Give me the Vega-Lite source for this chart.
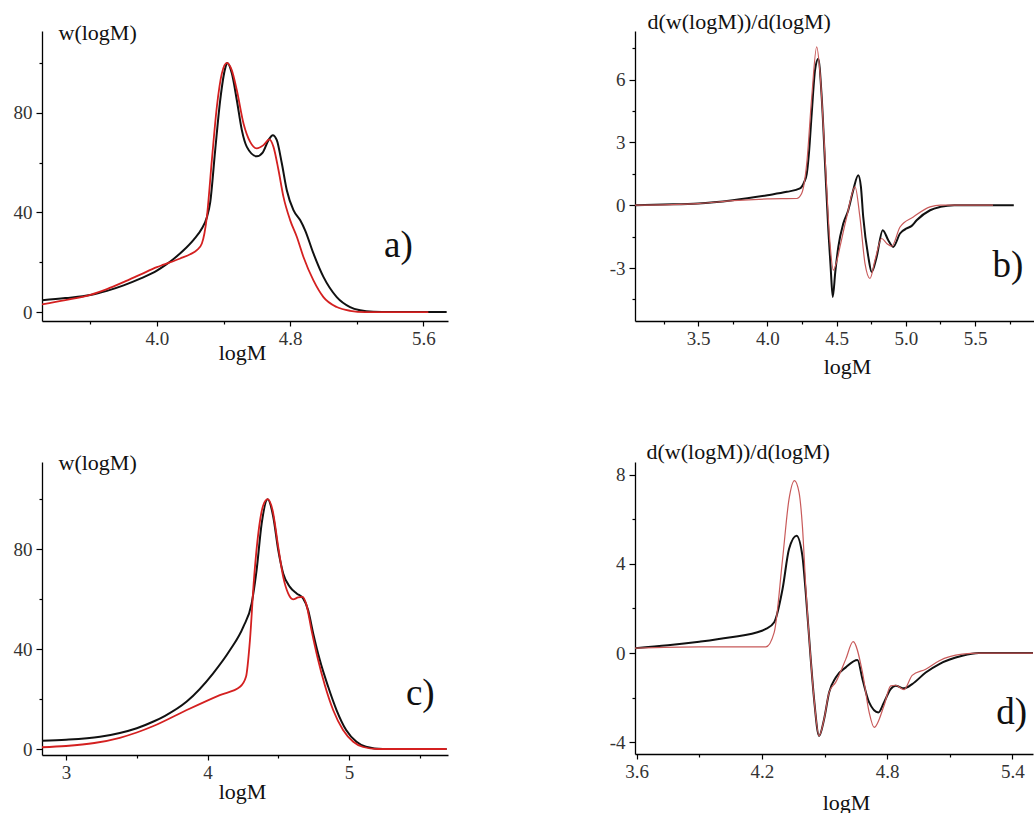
{
  "$schema": "https://vega.github.io/schema/vega-lite/v6.json",
  "background": "white",
  "padding": {"left": 13, "top": 10, "right": 0, "bottom": 0},
  "config": {
    "view": {"stroke": null},
    "axis": {
      "grid": false,
      "domainColor": "#000",
      "domainWidth": 1.3,
      "tickColor": "#000",
      "tickWidth": 1.2,
      "labelColor": "#333",
      "labelFont": "Liberation Serif",
      "labelFontSize": 19,
      "labelFlush": false,
      "labelOverlap": false,
      "labelBound": false,
      "titleFont": "Liberation Serif",
      "titleFontSize": 22,
      "titleFontWeight": "normal",
      "titleColor": "#111"
    }
  },
  "datasets": {
    "a_black": [
      {"logM": 3.31, "w": 4.7}, {"logM": 3.45, "w": 5.6}, {"logM": 3.6, "w": 6.8}, {"logM": 3.7, "w": 8.5},
      {"logM": 3.8, "w": 10.7}, {"logM": 3.9, "w": 13.4}, {"logM": 4.0, "w": 16.6}, {"logM": 4.05, "w": 18.8},
      {"logM": 4.1, "w": 21.3}, {"logM": 4.16, "w": 24.8}, {"logM": 4.22, "w": 29.0}, {"logM": 4.27, "w": 33.5},
      {"logM": 4.3, "w": 38.0}, {"logM": 4.32, "w": 44.0}, {"logM": 4.35, "w": 65.0}, {"logM": 4.38, "w": 85.0},
      {"logM": 4.41, "w": 97.8}, {"logM": 4.423, "w": 100.0}, {"logM": 4.45, "w": 95.8}, {"logM": 4.48, "w": 85.0},
      {"logM": 4.51, "w": 73.0}, {"logM": 4.54, "w": 66.3}, {"logM": 4.6, "w": 62.5}, {"logM": 4.635, "w": 64.0},
      {"logM": 4.67, "w": 69.0}, {"logM": 4.696, "w": 71.0}, {"logM": 4.72, "w": 69.0}, {"logM": 4.75, "w": 59.7},
      {"logM": 4.78, "w": 48.9}, {"logM": 4.82, "w": 40.9}, {"logM": 4.86, "w": 36.9}, {"logM": 4.89, "w": 32.8},
      {"logM": 4.94, "w": 23.5}, {"logM": 5.0, "w": 14.1}, {"logM": 5.08, "w": 6.0}, {"logM": 5.16, "w": 2.0},
      {"logM": 5.22, "w": 0.7}, {"logM": 5.3, "w": 0.1}, {"logM": 5.4, "w": 0.0}, {"logM": 5.74, "w": 0.0}
    ],
    "a_red": [
      {"logM": 3.31, "w": 3.1}, {"logM": 3.45, "w": 4.8}, {"logM": 3.6, "w": 6.9}, {"logM": 3.7, "w": 9.2},
      {"logM": 3.8, "w": 12.0}, {"logM": 3.9, "w": 15.0}, {"logM": 4.0, "w": 18.0}, {"logM": 4.04, "w": 19.0},
      {"logM": 4.14, "w": 21.5}, {"logM": 4.2, "w": 23.2}, {"logM": 4.24, "w": 24.8}, {"logM": 4.27, "w": 27.5},
      {"logM": 4.3, "w": 38.2}, {"logM": 4.33, "w": 61.0}, {"logM": 4.36, "w": 82.4}, {"logM": 4.39, "w": 95.8},
      {"logM": 4.42, "w": 100.0}, {"logM": 4.45, "w": 97.0}, {"logM": 4.48, "w": 89.0}, {"logM": 4.52, "w": 75.7},
      {"logM": 4.56, "w": 68.3}, {"logM": 4.6, "w": 65.7}, {"logM": 4.64, "w": 67.0}, {"logM": 4.675, "w": 69.3},
      {"logM": 4.7, "w": 66.3}, {"logM": 4.73, "w": 57.0}, {"logM": 4.76, "w": 46.2}, {"logM": 4.8, "w": 36.9},
      {"logM": 4.84, "w": 30.2}, {"logM": 4.88, "w": 22.1}, {"logM": 4.94, "w": 12.7}, {"logM": 5.0, "w": 6.0},
      {"logM": 5.08, "w": 2.0}, {"logM": 5.16, "w": 0.5}, {"logM": 5.25, "w": 0.0}, {"logM": 5.63, "w": 0.0}
    ],
    "b_black": [
      {"logM": 3.043, "dw": 0.0}, {"logM": 3.25, "dw": 0.03}, {"logM": 3.5, "dw": 0.08}, {"logM": 3.75, "dw": 0.24},
      {"logM": 4.0, "dw": 0.48}, {"logM": 4.14, "dw": 0.64}, {"logM": 4.235, "dw": 0.8}, {"logM": 4.265, "dw": 1.1},
      {"logM": 4.284, "dw": 1.5}, {"logM": 4.3, "dw": 2.5}, {"logM": 4.32, "dw": 4.4}, {"logM": 4.344, "dw": 6.45},
      {"logM": 4.367, "dw": 7.0}, {"logM": 4.392, "dw": 5.17}, {"logM": 4.416, "dw": 2.0}, {"logM": 4.44, "dw": -1.2},
      {"logM": 4.457, "dw": -3.0}, {"logM": 4.472, "dw": -4.38}, {"logM": 4.49, "dw": -3.2}, {"logM": 4.512, "dw": -1.99},
      {"logM": 4.548, "dw": -0.88}, {"logM": 4.584, "dw": -0.24}, {"logM": 4.62, "dw": 0.72}, {"logM": 4.656, "dw": 1.43},
      {"logM": 4.675, "dw": 0.9}, {"logM": 4.692, "dw": -0.56}, {"logM": 4.729, "dw": -2.47}, {"logM": 4.753, "dw": -3.19},
      {"logM": 4.789, "dw": -2.47}, {"logM": 4.833, "dw": -1.19}, {"logM": 4.873, "dw": -1.67}, {"logM": 4.909, "dw": -1.99},
      {"logM": 4.958, "dw": -1.35}, {"logM": 5.006, "dw": -1.11}, {"logM": 5.04, "dw": -1.0}, {"logM": 5.078, "dw": -0.72},
      {"logM": 5.175, "dw": -0.24}, {"logM": 5.25, "dw": -0.08}, {"logM": 5.35, "dw": 0.0}, {"logM": 5.78, "dw": 0.0}
    ],
    "b_red": [
      {"logM": 3.043, "dw": 0.0}, {"logM": 3.5, "dw": 0.08}, {"logM": 3.75, "dw": 0.22}, {"logM": 4.0, "dw": 0.3},
      {"logM": 4.211, "dw": 0.32}, {"logM": 4.247, "dw": 0.56}, {"logM": 4.284, "dw": 2.0}, {"logM": 4.32, "dw": 5.17},
      {"logM": 4.356, "dw": 7.56}, {"logM": 4.38, "dw": 6.3}, {"logM": 4.416, "dw": 2.3}, {"logM": 4.452, "dw": -1.83},
      {"logM": 4.476, "dw": -3.1}, {"logM": 4.5, "dw": -2.7}, {"logM": 4.524, "dw": -1.99}, {"logM": 4.573, "dw": -0.56},
      {"logM": 4.633, "dw": 0.88}, {"logM": 4.668, "dw": -0.56}, {"logM": 4.705, "dw": -2.79}, {"logM": 4.741, "dw": -3.5},
      {"logM": 4.777, "dw": -2.63}, {"logM": 4.825, "dw": -1.59}, {"logM": 4.862, "dw": -1.83}, {"logM": 4.898, "dw": -1.96},
      {"logM": 4.958, "dw": -1.04}, {"logM": 5.054, "dw": -0.56}, {"logM": 5.175, "dw": -0.08}, {"logM": 5.25, "dw": 0.0},
      {"logM": 5.63, "dw": 0.0}
    ],
    "c_black": [
      {"logM": 2.83, "w": 3.3}, {"logM": 3.0, "w": 3.7}, {"logM": 3.24, "w": 4.9}, {"logM": 3.38, "w": 6.4},
      {"logM": 3.5, "w": 8.3}, {"logM": 3.618, "w": 11.0}, {"logM": 3.7, "w": 13.3}, {"logM": 3.853, "w": 19.0},
      {"logM": 4.04, "w": 30.3}, {"logM": 4.159, "w": 39.6}, {"logM": 4.253, "w": 48.9}, {"logM": 4.312, "w": 58.3},
      {"logM": 4.347, "w": 71.6}, {"logM": 4.383, "w": 90.3}, {"logM": 4.425, "w": 100.0}, {"logM": 4.465, "w": 92.9},
      {"logM": 4.5, "w": 79.6}, {"logM": 4.535, "w": 70.3}, {"logM": 4.582, "w": 64.9}, {"logM": 4.63, "w": 62.3},
      {"logM": 4.676, "w": 60.3}, {"logM": 4.711, "w": 55.6}, {"logM": 4.747, "w": 46.3}, {"logM": 4.794, "w": 35.6},
      {"logM": 4.853, "w": 24.9}, {"logM": 4.912, "w": 15.6}, {"logM": 4.98, "w": 7.6}, {"logM": 5.053, "w": 2.9},
      {"logM": 5.12, "w": 0.9}, {"logM": 5.24, "w": 0.0}, {"logM": 5.69, "w": 0.0}
    ],
    "c_red": [
      {"logM": 2.83, "w": 0.7}, {"logM": 3.0, "w": 1.2}, {"logM": 3.2, "w": 2.4}, {"logM": 3.38, "w": 4.5},
      {"logM": 3.5, "w": 6.6}, {"logM": 3.618, "w": 9.2}, {"logM": 3.853, "w": 15.6}, {"logM": 4.087, "w": 21.6},
      {"logM": 4.23, "w": 24.9}, {"logM": 4.272, "w": 28.9}, {"logM": 4.3, "w": 43.6}, {"logM": 4.328, "w": 67.6},
      {"logM": 4.359, "w": 86.3}, {"logM": 4.394, "w": 97.6}, {"logM": 4.425, "w": 100.0}, {"logM": 4.46, "w": 95.6},
      {"logM": 4.5, "w": 80.9}, {"logM": 4.535, "w": 68.9}, {"logM": 4.57, "w": 62.3}, {"logM": 4.605, "w": 59.9},
      {"logM": 4.641, "w": 60.7}, {"logM": 4.672, "w": 60.9}, {"logM": 4.7, "w": 57.6}, {"logM": 4.735, "w": 47.6},
      {"logM": 4.782, "w": 35.6}, {"logM": 4.829, "w": 25.6}, {"logM": 4.888, "w": 15.6}, {"logM": 4.958, "w": 7.6},
      {"logM": 5.03, "w": 2.9}, {"logM": 5.1, "w": 0.8}, {"logM": 5.2, "w": 0.0}, {"logM": 5.69, "w": 0.0}
    ],
    "d_black": [
      {"logM": 3.592, "dw": 0.22}, {"logM": 3.75, "dw": 0.35}, {"logM": 3.9, "dw": 0.51}, {"logM": 4.043, "dw": 0.7},
      {"logM": 4.2, "dw": 1.0}, {"logM": 4.219, "dw": 1.08}, {"logM": 4.259, "dw": 1.38}, {"logM": 4.299, "dw": 2.87},
      {"logM": 4.33, "dw": 4.66}, {"logM": 4.366, "dw": 5.26}, {"logM": 4.394, "dw": 4.36}, {"logM": 4.41, "dw": 2.72},
      {"logM": 4.434, "dw": -0.27}, {"logM": 4.45, "dw": -2.06}, {"logM": 4.474, "dw": -3.71}, {"logM": 4.498, "dw": -2.96},
      {"logM": 4.522, "dw": -1.76}, {"logM": 4.554, "dw": -1.09}, {"logM": 4.602, "dw": -0.64}, {"logM": 4.658, "dw": -0.31},
      {"logM": 4.682, "dw": -1.17}, {"logM": 4.714, "dw": -2.21}, {"logM": 4.758, "dw": -2.66}, {"logM": 4.785, "dw": -2.21},
      {"logM": 4.817, "dw": -1.61}, {"logM": 4.841, "dw": -1.46}, {"logM": 4.881, "dw": -1.58}, {"logM": 4.92, "dw": -1.39},
      {"logM": 4.985, "dw": -0.87}, {"logM": 5.05, "dw": -0.49}, {"logM": 5.16, "dw": -0.12}, {"logM": 5.24, "dw": 0.0},
      {"logM": 5.499, "dw": 0.0}
    ],
    "d_red": [
      {"logM": 3.592, "dw": 0.22}, {"logM": 3.9, "dw": 0.28}, {"logM": 4.219, "dw": 0.28}, {"logM": 4.259, "dw": 0.93},
      {"logM": 4.299, "dw": 4.2}, {"logM": 4.33, "dw": 6.9}, {"logM": 4.356, "dw": 7.73}, {"logM": 4.378, "dw": 7.2},
      {"logM": 4.394, "dw": 5.7}, {"logM": 4.41, "dw": 3.0}, {"logM": 4.434, "dw": -0.27}, {"logM": 4.45, "dw": -2.06},
      {"logM": 4.474, "dw": -3.71}, {"logM": 4.498, "dw": -2.96}, {"logM": 4.522, "dw": -1.76}, {"logM": 4.554, "dw": -1.3},
      {"logM": 4.602, "dw": -0.27}, {"logM": 4.637, "dw": 0.51}, {"logM": 4.682, "dw": -0.87}, {"logM": 4.714, "dw": -2.66},
      {"logM": 4.738, "dw": -3.33}, {"logM": 4.785, "dw": -2.36}, {"logM": 4.817, "dw": -1.47}, {"logM": 4.841, "dw": -1.44},
      {"logM": 4.881, "dw": -1.64}, {"logM": 4.92, "dw": -1.0}, {"logM": 4.985, "dw": -0.72}, {"logM": 5.05, "dw": -0.34},
      {"logM": 5.16, "dw": -0.05}, {"logM": 5.24, "dw": 0.0}, {"logM": 5.499, "dw": 0.0}
    ],
    "labels_a": [{"label": "a)"}],
    "labels_b": [{"label": "b)"}],
    "labels_c": [{"label": "c)"}],
    "labels_d": [{"label": "d)"}]
  },
  "columns": 2,
  "align": "each",
  "bounds": "flush",
  "spacing": {"row": 141, "column": 187},
  "concat": [
    {
      "width": 406,
      "height": 290,
      "layer": [
        {
          "data": {"name": "a_black"},
          "mark": {"type": "line", "color": "#111111", "strokeWidth": 2, "interpolate": "monotone", "clip": true},
          "encoding": {
            "x": {"field": "logM", "type": "quantitative", "scale": {"domain": [3.31, 5.748], "nice": false, "zero": false},
              "axis": {"orient": "bottom", "values": [4.0, 4.8, 5.6], "format": ".1f", "tickSize": 5, "labelPadding": 3,
                "title": "logM", "titleX": 200, "titleY": 38, "titleAlign": "center", "titleBaseline": "alphabetic"}},
            "y": {"field": "w", "type": "quantitative", "scale": {"domain": [-3.6, 112.8], "nice": false, "zero": false},
              "axis": {"orient": "left", "values": [0, 40, 80], "tickSize": 6, "labelPadding": 4,
                "title": "w(logM)", "titleAngle": 0, "titleAlign": "left", "titleBaseline": "alphabetic", "titleX": 16, "titleY": 8.6}}
          }
        },
        {
          "data": {"name": "a_red"},
          "mark": {"type": "line", "color": "#d42020", "strokeWidth": 1.8, "interpolate": "monotone", "clip": true},
          "encoding": {
            "x": {"field": "logM", "type": "quantitative",
              "axis": {"orient": "bottom", "values": [3.6, 4.4, 5.2], "labels": false, "domain": false, "tickSize": 3, "title": null}},
            "y": {"field": "w", "type": "quantitative",
              "axis": {"orient": "left", "values": [20, 60, 100], "labels": false, "domain": false, "tickSize": 3, "title": null}}
          }
        },
        {
          "data": {"name": "labels_a"},
          "mark": {"type": "text", "align": "right", "baseline": "alphabetic", "font": "Liberation Serif", "fontSize": 37, "color": "#111111"},
          "encoding": {
            "x": {"datum": 5.537, "type": "quantitative", "axis": null},
            "y": {"datum": 22.1, "type": "quantitative", "axis": null},
            "text": {"field": "label"}
          }
        }
      ],
      "resolve": {"axis": {"x": "independent", "y": "independent"}}
    },
    {
      "width": 399,
      "height": 290,
      "layer": [
        {
          "data": {"name": "b_black"},
          "mark": {"type": "line", "color": "#111111", "strokeWidth": 2, "interpolate": "monotone", "clip": true},
          "encoding": {
            "x": {"field": "logM", "type": "quantitative", "scale": {"domain": [3.043, 5.926], "nice": false, "zero": false},
              "axis": {"orient": "bottom", "values": [3.5, 4.0, 4.5, 5.0, 5.5], "format": ".1f", "tickSize": 5, "labelPadding": 3,
                "title": "logM", "titleX": 212, "titleY": 52, "titleAlign": "center", "titleBaseline": "alphabetic"}},
            "y": {"field": "dw", "type": "quantitative", "scale": {"domain": [-5.53, 8.32], "nice": false, "zero": false},
              "axis": {"orient": "left", "values": [-3, 0, 3, 6], "tickSize": 6, "labelPadding": 4,
                "labelExpr": "replace(datum.label, '\u2212', '-')",
                "title": "d(w(logM))/d(logM)", "titleAngle": 0, "titleAlign": "left", "titleBaseline": "alphabetic", "titleX": 12, "titleY": -3}}
          }
        },
        {
          "data": {"name": "b_red"},
          "mark": {"type": "line", "color": "#c85a5a", "strokeWidth": 1.2, "interpolate": "monotone", "clip": true},
          "encoding": {
            "x": {"field": "logM", "type": "quantitative",
              "axis": {"orient": "bottom", "values": [3.25, 3.75, 4.25, 4.75, 5.25, 5.75], "labels": false, "domain": false, "tickSize": 3, "title": null}},
            "y": {"field": "dw", "type": "quantitative",
              "axis": {"orient": "left", "values": [-4.5, -1.5, 1.5, 4.5, 7.5], "labels": false, "domain": false, "tickSize": 3, "title": null}}
          }
        },
        {
          "data": {"name": "labels_b"},
          "mark": {"type": "text", "align": "right", "baseline": "alphabetic", "font": "Liberation Serif", "fontSize": 37, "color": "#111111"},
          "encoding": {
            "x": {"datum": 5.849, "type": "quantitative", "axis": null},
            "y": {"datum": -3.43, "type": "quantitative", "axis": null},
            "text": {"field": "label"}
          }
        }
      ],
      "resolve": {"axis": {"x": "independent", "y": "independent"}}
    },
    {
      "width": 406,
      "height": 293,
      "layer": [
        {
          "data": {"name": "c_black"},
          "mark": {"type": "line", "color": "#111111", "strokeWidth": 2, "interpolate": "monotone", "clip": true},
          "encoding": {
            "x": {"field": "logM", "type": "quantitative", "scale": {"domain": [2.83, 5.7], "nice": false, "zero": false},
              "axis": {"orient": "bottom", "values": [3, 4, 5], "format": "d", "tickSize": 5, "labelPadding": 3,
                "title": "logM", "titleX": 200, "titleY": 43, "titleAlign": "center", "titleBaseline": "alphabetic"}},
            "y": {"field": "w", "type": "quantitative", "scale": {"domain": [-2.4, 114.9], "nice": false, "zero": false},
              "axis": {"orient": "left", "values": [0, 40, 80], "tickSize": 6, "labelPadding": 4,
                "title": "w(logM)", "titleAngle": 0, "titleAlign": "left", "titleBaseline": "alphabetic", "titleX": 16, "titleY": 7.3}}
          }
        },
        {
          "data": {"name": "c_red"},
          "mark": {"type": "line", "color": "#d42020", "strokeWidth": 1.8, "interpolate": "monotone", "clip": true},
          "encoding": {
            "x": {"field": "logM", "type": "quantitative",
              "axis": {"orient": "bottom", "values": [3.5, 4.5, 5.5], "labels": false, "domain": false, "tickSize": 3, "title": null}},
            "y": {"field": "w", "type": "quantitative",
              "axis": {"orient": "left", "values": [20, 60, 100], "labels": false, "domain": false, "tickSize": 3, "title": null}}
          }
        },
        {
          "data": {"name": "labels_c"},
          "mark": {"type": "text", "align": "right", "baseline": "alphabetic", "font": "Liberation Serif", "fontSize": 37, "color": "#111111"},
          "encoding": {
            "x": {"datum": 5.606, "type": "quantitative", "axis": null},
            "y": {"datum": 17.6, "type": "quantitative", "axis": null},
            "text": {"field": "label"}
          }
        }
      ],
      "resolve": {"axis": {"x": "independent", "y": "independent"}}
    },
    {
      "width": 398,
      "height": 292,
      "layer": [
        {
          "data": {"name": "d_black"},
          "mark": {"type": "line", "color": "#111111", "strokeWidth": 2, "interpolate": "monotone", "clip": true},
          "encoding": {
            "x": {"field": "logM", "type": "quantitative", "scale": {"domain": [3.592, 5.499], "nice": false, "zero": false},
              "axis": {"orient": "bottom", "values": [3.6, 4.2, 4.8, 5.4], "format": ".1f", "tickSize": 5, "labelPadding": 3,
                "title": "logM", "titleX": 211, "titleY": 55, "titleAlign": "center", "titleBaseline": "alphabetic"}},
            "y": {"field": "dw", "type": "quantitative", "scale": {"domain": [-4.52, 8.56], "nice": false, "zero": false},
              "axis": {"orient": "left", "values": [-4, 0, 4, 8], "tickSize": 6, "labelPadding": 4,
                "labelExpr": "replace(datum.label, '\u2212', '-')",
                "title": "d(w(logM))/d(logM)", "titleAngle": 0, "titleAlign": "left", "titleBaseline": "alphabetic", "titleX": 11, "titleY": -4}}
          }
        },
        {
          "data": {"name": "d_red"},
          "mark": {"type": "line", "color": "#c85a5a", "strokeWidth": 1.2, "interpolate": "monotone", "clip": true},
          "encoding": {
            "x": {"field": "logM", "type": "quantitative",
              "axis": {"orient": "bottom", "values": [3.9, 4.5, 5.1], "labels": false, "domain": false, "tickSize": 3, "title": null}},
            "y": {"field": "dw", "type": "quantitative",
              "axis": {"orient": "left", "values": [-2, 2, 6], "labels": false, "domain": false, "tickSize": 3, "title": null}}
          }
        },
        {
          "data": {"name": "labels_d"},
          "mark": {"type": "text", "align": "right", "baseline": "alphabetic", "font": "Liberation Serif", "fontSize": 37, "color": "#111111"},
          "encoding": {
            "x": {"datum": 5.471, "type": "quantitative", "axis": null},
            "y": {"datum": -3.18, "type": "quantitative", "axis": null},
            "text": {"field": "label"}
          }
        }
      ],
      "resolve": {"axis": {"x": "independent", "y": "independent"}}
    }
  ]
}
